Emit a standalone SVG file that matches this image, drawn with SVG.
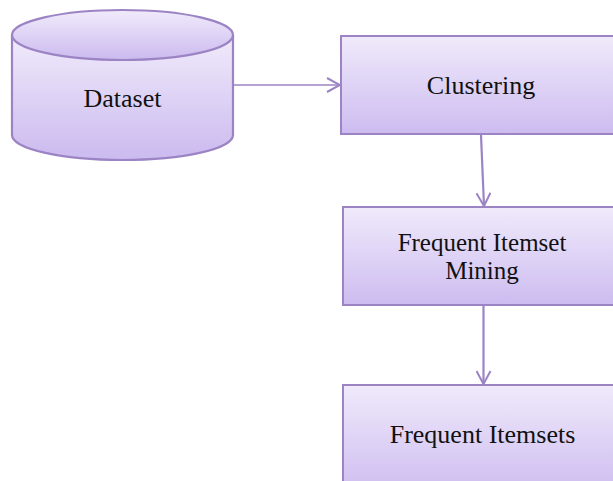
<svg xmlns="http://www.w3.org/2000/svg" width="613" height="481" viewBox="0 0 613 481">
  <defs>
    <linearGradient id="fillGrad" x1="0" y1="0" x2="0" y2="1">
      <stop offset="0" stop-color="#f0eafb"/>
      <stop offset="1" stop-color="#cdbcf0"/>
    </linearGradient>
    <linearGradient id="cylGrad" x1="0" y1="0" x2="0" y2="1">
      <stop offset="0" stop-color="#f1ebfb"/>
      <stop offset="1" stop-color="#cbbaef"/>
    </linearGradient>
    <marker id="chev" viewBox="0 0 16 16" refX="15" refY="8" markerWidth="16" markerHeight="16" markerUnits="userSpaceOnUse" orient="auto">
      <path d="M2,1 L15,8 L2,15" fill="none" stroke="#9b84c4" stroke-width="2"/>
    </marker>
    <style>
      .box { fill: url(#fillGrad); stroke: #9c84c4; stroke-width: 2; }
      .cyl { fill: url(#cylGrad); stroke: #9c84c4; stroke-width: 2.2; }
      .lbl { font-family: "Liberation Serif", "Times New Roman", serif; font-size: 26px; fill: #111; text-anchor: middle; }
      .lbl2 { font-size: 25px; }
      .conn { fill: none; stroke: #9b84c4; }
    </style>
  </defs>
  <rect width="613" height="481" fill="#ffffff"/>

  <g id="connectors">
    <line class="conn" x1="233" y1="85" x2="340" y2="85" stroke-width="1.3" marker-end="url(#chev)"/>
    <line class="conn" x1="481" y1="135" x2="484" y2="206" stroke-width="2.2" marker-end="url(#chev)"/>
    <line class="conn" x1="483.5" y1="306" x2="483.5" y2="384" stroke-width="2.2" marker-end="url(#chev)"/>
  </g>

  <g id="dataset">
    <path class="cyl" d="M12,35 L12,135 A110.5,25 0 0 0 233,135 L233,35"/>
    <ellipse class="cyl" cx="122.5" cy="35" rx="110.5" ry="25"/>
    <text class="lbl" x="122.5" y="107">Dataset</text>
  </g>

  <g id="clustering">
    <rect class="box" x="341" y="36" width="290" height="98"/>
    <text class="lbl" x="481" y="94">Clustering</text>
  </g>

  <g id="frequent-itemset-mining">
    <rect class="box" x="343" y="207" width="290" height="98"/>
    <text class="lbl lbl2" x="482" y="250.5">Frequent Itemset</text>
    <text class="lbl lbl2" x="482" y="278.5">Mining</text>
  </g>

  <g id="frequent-itemsets">
    <rect class="box" x="343" y="385" width="290" height="110"/>
    <text class="lbl" x="482.5" y="443">Frequent Itemsets</text>
  </g>
</svg>
